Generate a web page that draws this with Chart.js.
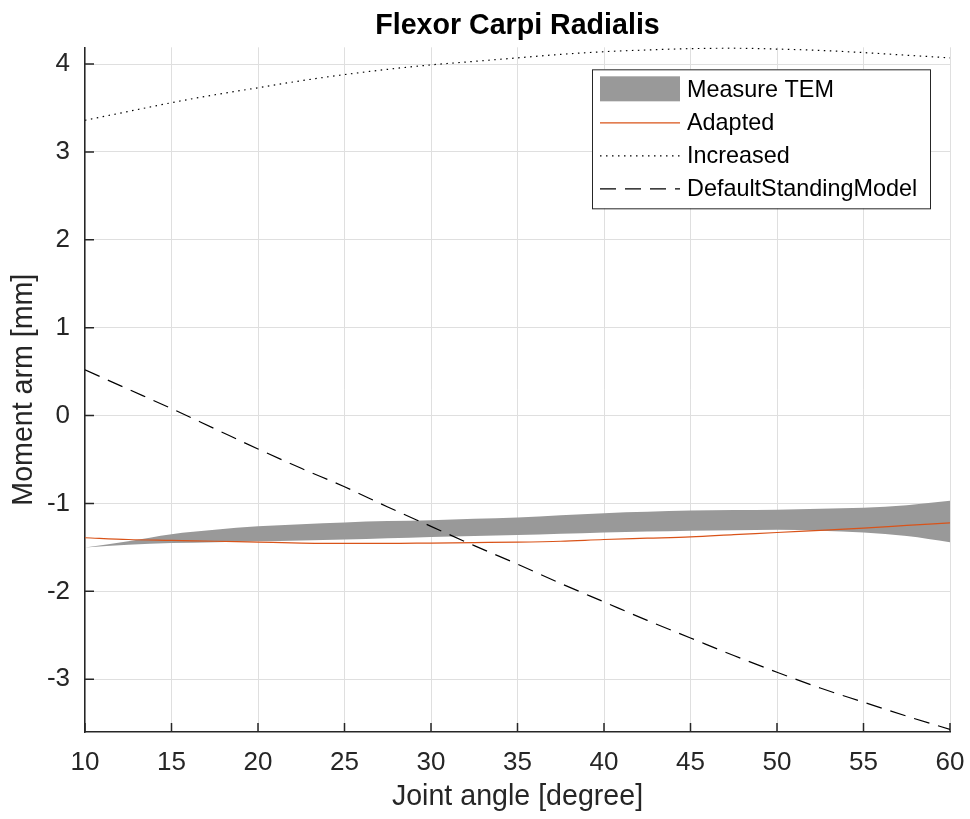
<!DOCTYPE html>
<html lang="en">
<head>
    <meta charset="UTF-8">
    <title>Flexor Carpi Radialis</title>
    <script src="https://cdn.jsdelivr.net/npm/chart.js"></script>
    <style>
        body { margin: 0; background: #fff; }
        .chart-box { width: 970px; height: 819px; }
    </style>
</head>
<body>
    <div class="chart-box">
        <canvas id="momentChart" width="970" height="819"></canvas>
    </div>
    <script>
        // Joint angle samples [degree]
        const angles = [10, 12.5, 15, 17.5, 20, 22.5, 25, 27.5, 30, 32.5, 35, 37.5, 40, 42.5, 45, 47.5, 50, 52.5, 55, 57.5, 60];

        // Measure TEM band (upper / lower edge) [mm]
        const temUpper = [-1.50, -1.43, -1.35, -1.30, -1.26, -1.235, -1.215, -1.20, -1.19, -1.175, -1.16, -1.135, -1.11, -1.095, -1.08, -1.075, -1.07, -1.06, -1.05, -1.02, -0.97];
        const temLower = [-1.50, -1.47, -1.45, -1.44, -1.43, -1.42, -1.41, -1.395, -1.38, -1.37, -1.36, -1.345, -1.33, -1.32, -1.31, -1.305, -1.30, -1.31, -1.33, -1.37, -1.44];

        // Model curves [mm]
        const adapted = [-1.39, -1.41, -1.42, -1.43, -1.44, -1.45, -1.455, -1.455, -1.45, -1.445, -1.44, -1.43, -1.41, -1.395, -1.38, -1.355, -1.33, -1.305, -1.28, -1.25, -1.22];
        const increased = [3.36, 3.46, 3.56, 3.65, 3.73, 3.81, 3.88, 3.94, 3.99, 4.03, 4.07, 4.11, 4.14, 4.16, 4.175, 4.18, 4.17, 4.155, 4.13, 4.10, 4.07];
        const defaultStanding = [0.52, 0.30, 0.08, -0.15, -0.38, -0.60, -0.81, -1.04, -1.26, -1.48, -1.69, -1.91, -2.12, -2.33, -2.53, -2.73, -2.92, -3.10, -3.26, -3.42, -3.57];

        // axis limits
        const xLimits = [10, 60];
        const yLimits = [-3.6, 4.19];

        const axisColor = '#262626';
        const gridColor = '#dfdfdf';
        const orange = '#D95319';
        const bandGray = '#999999';
        Chart.defaults.font.family = "'Liberation Sans', Arial, Helvetica, sans-serif";
        Chart.defaults.color = axisColor;

        function toPoints(vals) {
            return angles.map((a, i) => ({ x: a, y: vals[i] }));
        }

        // MATLAB style ticks pointing into the axes
        const insideTicks = {
            id: 'insideTicks',
            beforeDatasetsDraw(chart) {
                const { ctx, chartArea, scales } = chart;
                const len = 9;
                ctx.save();
                ctx.strokeStyle = axisColor;
                ctx.lineWidth = 1.5;
                ctx.beginPath();
                scales.x.ticks.forEach(t => {
                    const px = scales.x.getPixelForValue(t.value);
                    ctx.moveTo(px, chartArea.bottom);
                    ctx.lineTo(px, chartArea.bottom - len);
                });
                scales.y.ticks.forEach(t => {
                    const py = scales.y.getPixelForValue(t.value);
                    ctx.moveTo(chartArea.left, py);
                    ctx.lineTo(chartArea.left + len, py);
                });
                ctx.stroke();
                ctx.restore();
            }
        };

        // legend box in the upper right of the axes
        const boxLegend = {
            id: 'boxLegend',
            afterDraw(chart) {
                const { ctx, chartArea } = chart;
                const sets = chart.data.datasets.filter(d => d.inLegend);
                const w = 338, rowH = 33;
                const h = 40 + (sets.length - 1) * rowH;
                const left = chartArea.right - 20 - w;
                const top = chartArea.top + 22;
                ctx.save();
                ctx.fillStyle = '#fff';
                ctx.fillRect(left, top, w, h);
                ctx.strokeStyle = axisColor;
                ctx.lineWidth = 1;
                ctx.strokeRect(left + 0.5, top + 0.5, w, h);
                ctx.font = "23.4px 'Liberation Sans', Arial, sans-serif";
                ctx.textBaseline = 'middle';
                sets.forEach((d, i) => {
                    const cy = top + 20 + i * rowH;
                    if (d.fill) {
                        ctx.fillStyle = d.backgroundColor;
                        ctx.fillRect(left + 8, cy - 13, 80, 25);
                    } else {
                        ctx.strokeStyle = d.borderColor;
                        ctx.lineWidth = d.borderWidth;
                        ctx.setLineDash(d.borderDash || []);
                        ctx.beginPath();
                        ctx.moveTo(left + 8, cy + 0.5);
                        ctx.lineTo(left + 88, cy + 0.5);
                        ctx.stroke();
                        ctx.setLineDash([]);
                    }
                    ctx.fillStyle = '#000';
                    ctx.fillText(d.label, left + 95, cy + 1);
                });
                ctx.restore();
            }
        };

        const ctx = document.getElementById('momentChart').getContext('2d');
        const momentChart = new Chart(ctx, {
            type: 'line',
            data: {
                datasets: [
                    {
                        label: 'Measure TEM',
                        data: toPoints(temUpper),
                        fill: '+1',
                        backgroundColor: bandGray,
                        borderColor: bandGray,
                        borderWidth: 0,
                        pointRadius: 0,
                        order: 10,
                        inLegend: true
                    },
                    {
                        label: 'Measure TEM lower',
                        data: toPoints(temLower),
                        fill: false,
                        borderColor: bandGray,
                        borderWidth: 0,
                        pointRadius: 0,
                        order: 11
                    },
                    {
                        label: 'Adapted',
                        data: toPoints(adapted),
                        fill: false,
                        borderColor: orange,
                        borderWidth: 1.2,
                        pointRadius: 0,
                        order: 3,
                        inLegend: true
                    },
                    {
                        label: 'Increased',
                        data: toPoints(increased),
                        fill: false,
                        borderColor: '#000',
                        borderWidth: 1.2,
                        borderDash: [1.5, 4.5],
                        pointRadius: 0,
                        order: 2,
                        inLegend: true
                    },
                    {
                        label: 'DefaultStandingModel',
                        data: toPoints(defaultStanding),
                        fill: false,
                        borderColor: '#000',
                        borderWidth: 1.2,
                        borderDash: [16, 9],
                        pointRadius: 0,
                        order: 1,
                        inLegend: true
                    }
                ]
            },
            options: {
                responsive: false,
                animation: false,
                events: [],
                cubicInterpolationMode: 'monotone',
                layout: { padding: { left: 0, right: 20, top: 0, bottom: 0 } },
                plugins: {
                    legend: { display: false },
                    tooltip: { enabled: false },
                    title: {
                        display: true,
                        text: 'Flexor Carpi Radialis',
                        fullSize: false,
                        color: '#000',
                        font: { size: 28.6, weight: 'bold' },
                        padding: { top: 9, bottom: 4 }
                    }
                },
                scales: {
                    x: {
                        type: 'linear',
                        min: xLimits[0],
                        max: xLimits[1],
                        afterFit(scale) {
                            scale.height = 87;
                            scale.paddingLeft = 0;
                            scale.paddingRight = 0;
                        },
                        border: { display: true, color: axisColor, width: 1.5 },
                        grid: { color: gridColor, lineWidth: 1, drawTicks: false },
                        ticks: { stepSize: 5, padding: 15, maxRotation: 0, color: axisColor, font: { size: 26 } },
                        title: {
                            display: true,
                            text: 'Joint angle [degree]',
                            color: axisColor,
                            font: { size: 28.6 },
                            padding: { top: 0, bottom: 5 }
                        }
                    },
                    y: {
                        type: 'linear',
                        min: yLimits[0],
                        max: yLimits[1],
                        afterFit(scale) { scale.width = 85; },
                        border: { display: true, color: axisColor, width: 1.5 },
                        grid: { color: gridColor, lineWidth: 1, drawTicks: false },
                        ticks: { stepSize: 1, includeBounds: false, padding: 15, color: axisColor, font: { size: 26 } },
                        title: {
                            display: true,
                            text: 'Moment arm [mm]',
                            color: axisColor,
                            font: { size: 28.6 },
                            padding: { top: 7, bottom: 0 }
                        }
                    }
                }
            },
            plugins: [insideTicks, boxLegend]
        });
    </script>
</body>
</html>
